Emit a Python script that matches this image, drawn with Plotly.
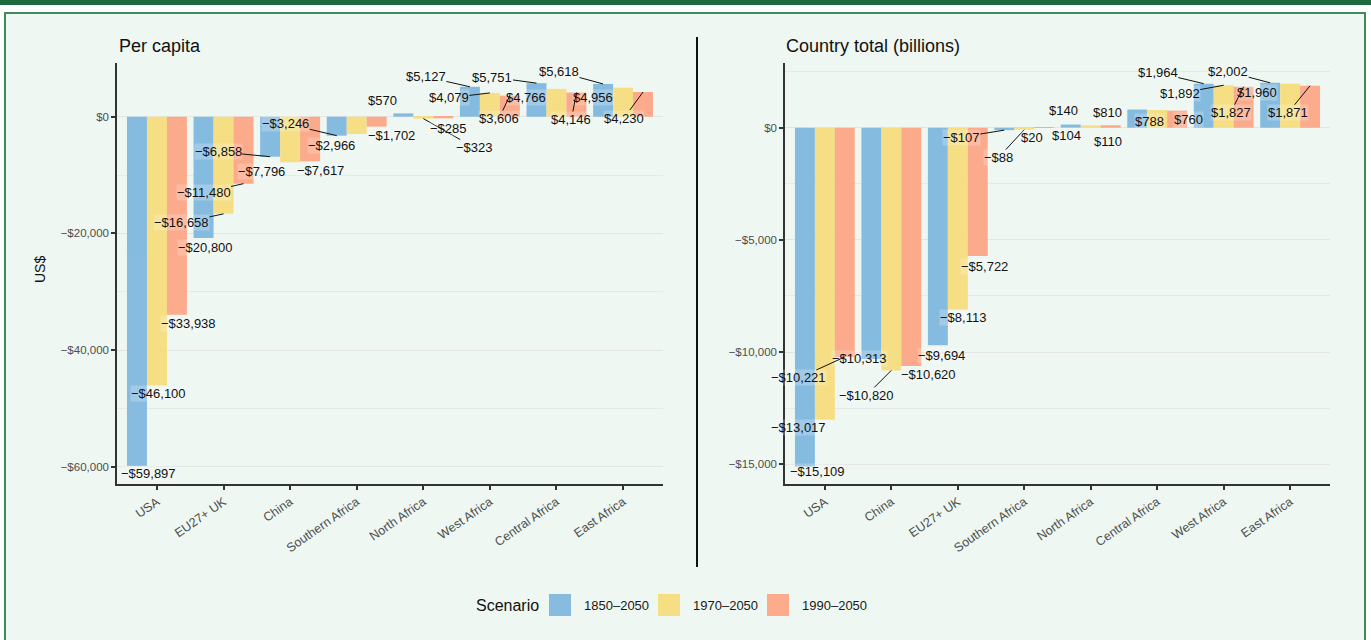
import plotly.graph_objects as go

# ---- data -------------------------------------------------------------
scenarios = ["1850–2050", "1970–2050", "1990–2050"]
colors = ["#7fb7df", "#f6dd7b", "#fda584"]

pc_regions = ["USA", "EU27+ UK", "China", "Southern Africa", "North Africa",
              "West Africa", "Central Africa", "East Africa"]
pc_1850 = [-59897, -20800, -6858, -3246, 570, 5127, 5751, 5618]
pc_1970 = [-46100, -16658, -7796, -2966, -323, 4079, 4766, 4956]
pc_1990 = [-33938, -11480, -7617, -1702, -285, 3606, 4146, 4230]

tot_regions = ["USA", "China", "EU27+ UK", "Southern Africa", "North Africa",
               "Central Africa", "West Africa", "East Africa"]
tot_1850 = [-15109, -10313, -9694, -107, 140, 810, 1964, 2002]
tot_1970 = [-13017, -10820, -8113, -88, 104, 788, 1892, 1960]
tot_1990 = [-10221, -10620, -5722, 20, 110, 760, 1827, 1871]

pc_tickvals = [0, -20000, -40000, -60000]
pc_ticktext = ["$0", "−$20,000", "−$40,000", "−$60,000"]
tot_tickvals = [0, -5000, -10000, -15000]
tot_ticktext = ["$0", "−$5,000", "−$10,000", "−$15,000"]

# ---- label placement (pixel offsets of each label from its bar end) ----
# (dx, dy, draw_segment) per region, per scenario
pc_label_pos = [
    [(12, 7, 0), (2, 8, 0), (12, 9, 0)],
    [(2, 9, 0), (-42, 9, 1), (-40, 9, 1)],
    [(-52, -5, 1), (-29, 9, 0), (10, 9, 0)],
    [(-51, -12, 1), (-25, 12, 0), (15, 9, 0)],
    [(-21, -13, 0), (51, 29, 1), (5, 10, 0)],
    [(-44, -10, 1), (-41, 5, 1), (-11, 23, 1)],
    [(-44, -6, 1), (-30, 9, 0), (-5, 27, 1)],
    [(-44, -12, 1), (-30, 10, 0), (-19, 26, 1)],
]
tot_label_pos = [
    [(13, 5, 0), (-26, 8, 0), (-46, 21, 1)],
    [(-12, -1, 0), (-25, 25, 1), (17, 9, 0)],
    [(4, 10, 0), (5, 8, 0), (7, 10, 0)],
    [(-43, 7, 1), (-26, 28, 1), (-12, 10, 0)],
    [(-7, -14, 0), (-24, 10, 0), (-3, 16, 0)],
    [(-30, 3, 0), (-8, 11, 0), (11, 9, 0)],
    [(-46, -11, 1), (-44, 8, 1), (-13, 26, 1)],
    [(-42, -11, 1), (-33, 9, 0), (-22, 27, 1)],
]

FONT = "Liberation Sans, Arial, Helvetica, sans-serif"
W, H = 1371, 640


def money(v):
    s = "${:,}".format(abs(v))
    return ("−" + s) if v < 0 else s


def px(x):
    return x / W


def py(y):
    return 1 - y / H


fig = go.Figure()

panels = [
    ("x", "y", pc_regions, [pc_1850, pc_1970, pc_1990], pc_label_pos),
    ("x2", "y2", tot_regions, [tot_1850, tot_1970, tot_1990], tot_label_pos),
]

annotations = []
for xa, ya, regions, series, label_pos in panels:
    for j, (name, vals) in enumerate(zip(scenarios, series)):
        fig.add_trace(go.Bar(
            x=regions, y=vals, name=name, xaxis=xa, yaxis=ya,
            marker=dict(color=colors[j], line=dict(width=0)),
            opacity=0.93, showlegend=False,
        ))
        for i, v in enumerate(vals):
            dx, dy, seg = label_pos[i][j]
            base = dict(
                x=i + (j - 1) * 0.3, y=v, xref=xa, yref=ya, text=money(v),
                font=dict(family=FONT, size=13, color="#111111"),
                bgcolor="rgba(255,255,255,0.22)", borderpad=0,
            )
            if seg:
                base.update(showarrow=True, ax=dx, ay=dy, arrowhead=0,
                            arrowwidth=1, arrowcolor="#111111", standoff=0)
            else:
                base.update(showarrow=False, xshift=dx, yshift=-dy)
            annotations.append(base)

common_x = dict(
    type="category", range=[-0.6, 7.6], showgrid=False, zeroline=False,
    showline=True, linecolor="#333333", linewidth=1.5,
    ticks="outside", ticklen=4, tickcolor="#333333", tickwidth=1.5,
    tickangle=-35, tickfont=dict(family=FONT, size=12.5, color="#4d4d4d"),
)
common_y = dict(
    showgrid=True, gridcolor="#e3e6e4", gridwidth=1.4, zeroline=False,
    showline=True, linecolor="#333333", linewidth=1.5,
    ticks="outside", ticklen=4, tickcolor="#333333", tickwidth=1.5,
    tickfont=dict(family=FONT, size=11.5, color="#4d4d4d"),
)

fig.update_layout(
    width=W, height=H,
    margin=dict(l=0, r=0, t=0, b=0),
    paper_bgcolor="white", plot_bgcolor="rgba(0,0,0,0)",
    barmode="group", bargap=0.1, bargroupgap=0,
    xaxis=dict(domain=[px(117), px(663)], anchor="y", **common_x),
    yaxis=dict(domain=[py(484), py(63)], anchor="x", range=[-62970, 9206],
               tickvals=pc_tickvals, ticktext=pc_ticktext,
               minor=dict(dtick=10000, tick0=0, showgrid=True,
                          gridcolor="#e6e9e7", gridwidth=1.1, ticks=""),
               **common_y),
    xaxis2=dict(domain=[px(785), px(1330)], anchor="y2", **common_x),
    yaxis2=dict(domain=[py(484), py(63)], anchor="x2", range=[-15885, 2885],
                tickvals=tot_tickvals, ticktext=tot_ticktext,
                minor=dict(dtick=2500, tick0=0, showgrid=True,
                           gridcolor="#e6e9e7", gridwidth=1.1, ticks=""),
                **common_y),
)

# page decoration: top band, framed panel background, central divider
shapes = [
    dict(type="rect", xref="paper", yref="paper", x0=0, x1=1, y0=py(5), y1=1,
         fillcolor="#1c6a3e", line=dict(width=0), layer="below"),
    dict(type="rect", xref="paper", yref="paper", x0=px(5), x1=px(1365),
         y0=py(650), y1=py(13), fillcolor="#eef7f1",
         line=dict(color="#3d8a5c", width=2), layer="below"),
    dict(type="line", xref="paper", yref="paper", x0=px(697), x1=px(697),
         y0=py(567), y1=py(37), line=dict(color="#111111", width=2)),
]

# legend drawn as swatches and text
legend_title_x = 474
swatch_x = [549, 658, 767]
for k, name in enumerate(scenarios):
    shapes.append(dict(type="rect", xref="paper", yref="paper",
                       x0=px(swatch_x[k]), x1=px(swatch_x[k] + 22),
                       y0=py(616), y1=py(594), fillcolor=colors[k],
                       opacity=0.93, line=dict(width=0)))
    annotations.append(dict(
        xref="paper", yref="paper", x=px(swatch_x[k] + 33), y=py(605),
        xanchor="left", yanchor="middle", showarrow=False, text=name,
        font=dict(family=FONT, size=13, color="#1a1a1a")))
annotations.append(dict(
    xref="paper", yref="paper", x=px(legend_title_x), y=py(605),
    xanchor="left", yanchor="middle", showarrow=False, text="Scenario",
    font=dict(family=FONT, size=16, color="#111111")))

# panel titles and axis title
annotations += [
    dict(xref="paper", yref="paper", x=px(117), y=py(46), xanchor="left",
         yanchor="middle", showarrow=False, text="Per capita",
         font=dict(family=FONT, size=18, color="#111111")),
    dict(xref="paper", yref="paper", x=px(784), y=py(46), xanchor="left",
         yanchor="middle", showarrow=False, text="Country total (billions)",
         font=dict(family=FONT, size=18, color="#111111")),
    dict(xref="paper", yref="paper", x=px(40), y=py(270), xanchor="center",
         yanchor="middle", showarrow=False, text="US$", textangle=-90,
         font=dict(family=FONT, size=14, color="#111111")),
]

fig.update_layout(shapes=shapes, annotations=annotations)
fig.write_html("out.html")
